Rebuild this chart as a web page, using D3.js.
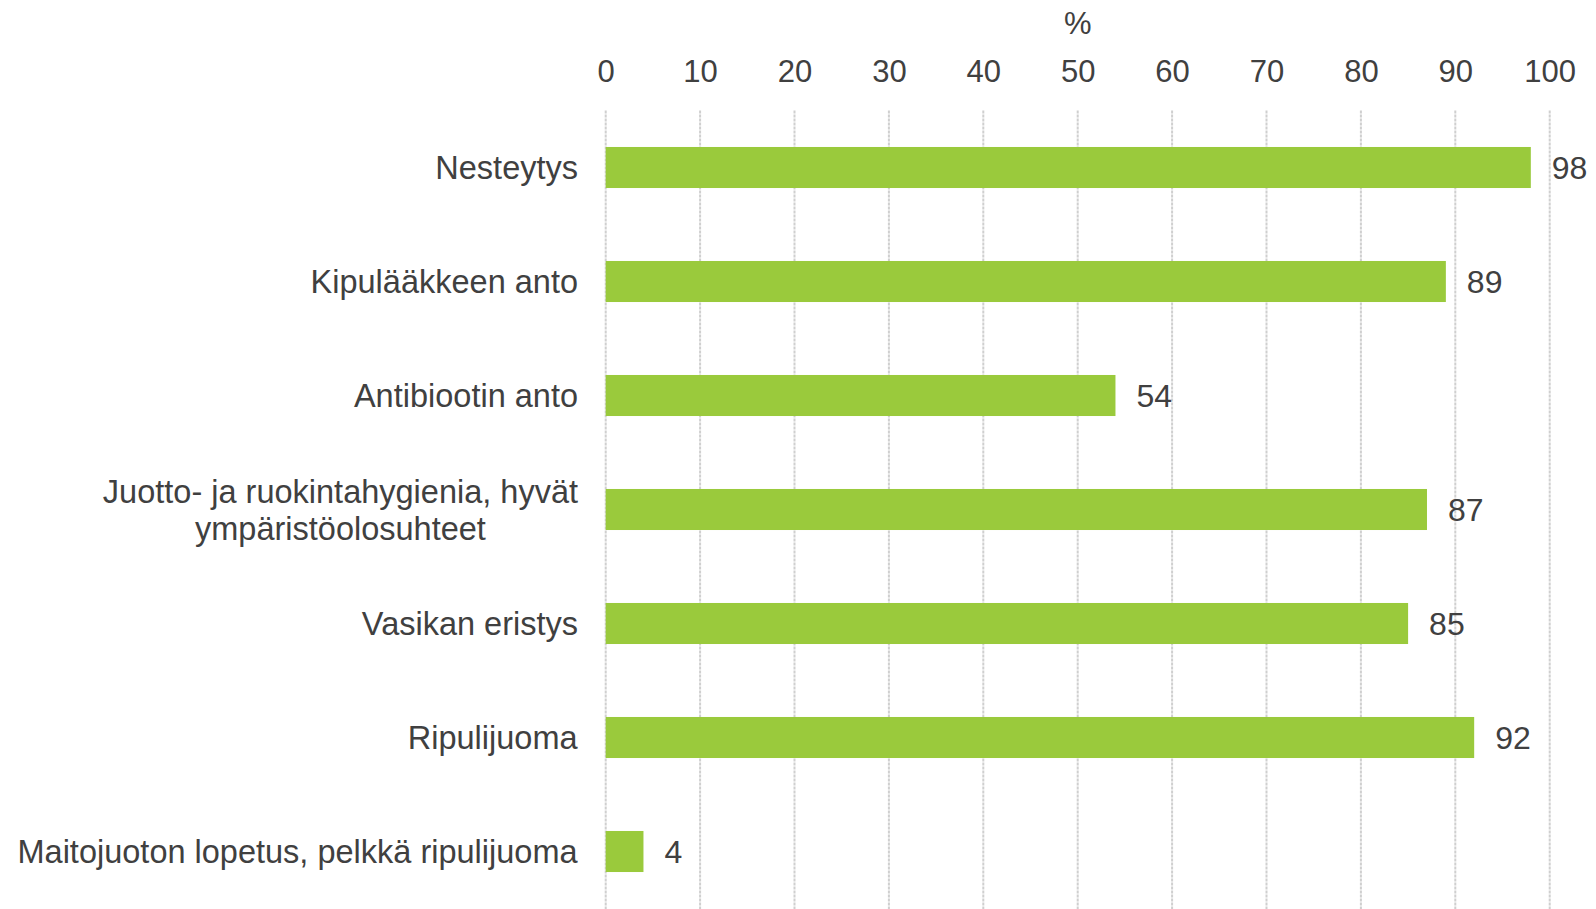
<!DOCTYPE html>
<html>
<head>
<meta charset="utf-8">
<script src="https://cdn.jsdelivr.net/npm/d3@7"></script>
<style>
  html, body { margin: 0; padding: 0; background: #ffffff; }
  svg { display: block; }
  text { font-family: Arial, "Liberation Sans", sans-serif; fill: #404040; }
</style>
</head>
<body>
<svg id="chart" width="1596" height="909"></svg>
<script>
const categories = [
  ["Nesteytys"],
  ["Kipulääkkeen anto"],
  ["Antibiootin anto"],
  ["Juotto- ja ruokintahygienia, hyvät", "ympäristöolosuhteet"],
  ["Vasikan eristys"],
  ["Ripulijuoma"],
  ["Maitojuoton lopetus, pelkkä ripulijuoma"]
];
const values = [98, 89, 54, 87, 85, 92, 4];
const tickValues = [0, 10, 20, 30, 40, 50, 60, 70, 80, 90, 100];
const axisTitle = "%";

const svg = d3.select("#chart");
const margin = { left: 605.7, right: 46.3, top: 110.5, bottom: 0.5 };
const W = 1596, H = 909;

const x = d3.scaleLinear().domain([0, 100]).range([margin.left, W - margin.right]);
const y = d3.scaleBand()
  .domain(d3.range(categories.length))
  .range([margin.top, H - margin.bottom])
  .paddingInner(0.64)
  .paddingOuter(0.32);

// gridlines
svg.append("g").selectAll("line")
  .data(tickValues)
  .join("line")
  .attr("x1", d => x(d)).attr("x2", d => x(d))
  .attr("y1", margin.top).attr("y2", H)
  .attr("stroke", "#cfcfcf")
  .attr("stroke-width", 2)
  .attr("stroke-dasharray", "3,1");

// top axis labels
const axis = d3.axisTop(x).tickValues(tickValues).tickSize(0).tickPadding(0).tickFormat(d3.format("d"));
const gAxis = svg.append("g").attr("transform", "translate(0,81.5)").call(axis);
gAxis.select(".domain").remove();
gAxis.selectAll("text")
  .attr("font-size", 31)
  .attr("font-family", "Arial, 'Liberation Sans', sans-serif")
  .attr("fill", "#404040")
  .attr("dy", 0);

svg.append("text")
  .attr("x", x(50))
  .attr("y", 34)
  .attr("text-anchor", "middle")
  .attr("font-size", 31)
  .text(axisTitle);

// bars
svg.append("g").selectAll("rect")
  .data(values)
  .join("rect")
  .attr("x", x(0))
  .attr("y", (d, i) => y(i))
  .attr("width", d => x(d) - x(0))
  .attr("height", y.bandwidth())
  .attr("fill", "#9aca3c");

// value labels
svg.append("g").selectAll("text")
  .data(values)
  .join("text")
  .attr("x", d => x(d) + 21)
  .attr("y", (d, i) => y(i) + y.bandwidth() / 2)
  .attr("dy", "0.36em")
  .attr("font-size", 32)
  .text(d => d);

// category labels
const labelRight = 578;
const lineH = 37;
const gLab = svg.append("g");
categories.forEach((lines, i) => {
  const cy = y(i) + y.bandwidth() / 2;
  const t = gLab.append("text")
    .attr("font-size", 32.5)
    .attr("text-anchor", "middle");
  lines.forEach((ln, j) => {
    t.append("tspan")
      .attr("x", 0)
      .attr("y", cy + (j - (lines.length - 1) / 2) * lineH)
      .attr("dy", "0.36em")
      .text(ln);
  });
  const w = t.node().getBBox().width;
  t.attr("transform", `translate(${labelRight - w / 2},0)`);
});
</script>
</body>
</html>
